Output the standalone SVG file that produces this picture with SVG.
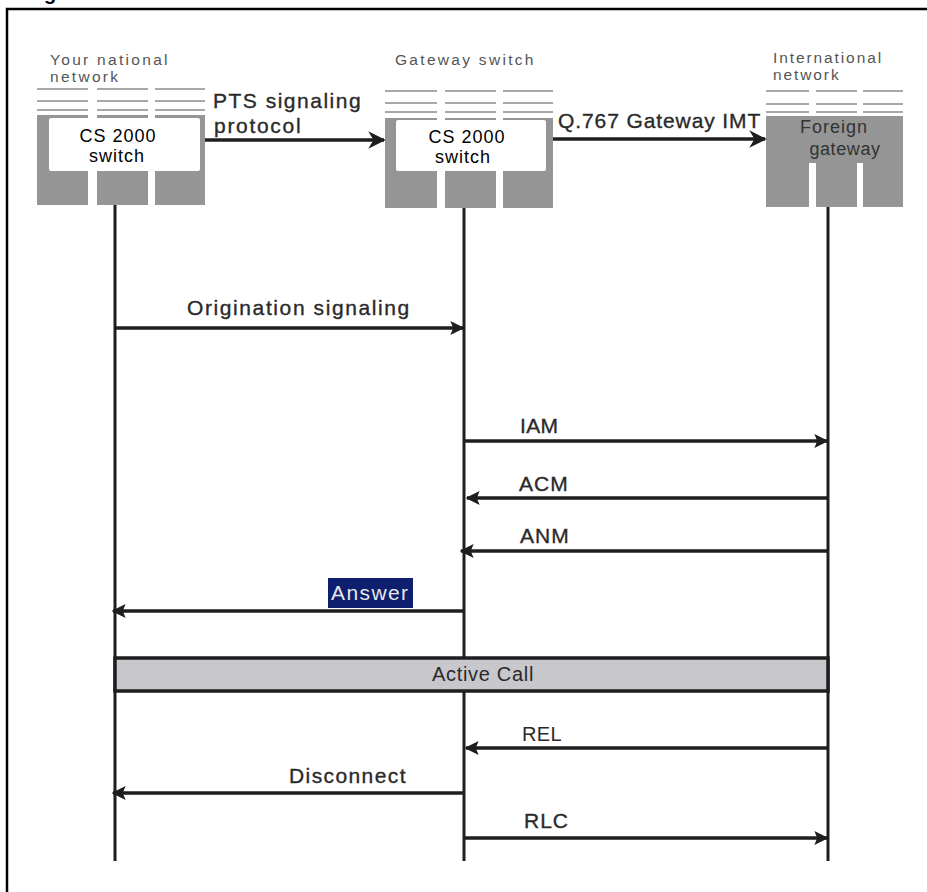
<svg xmlns="http://www.w3.org/2000/svg" width="927" height="892" viewBox="0 0 927 892">
<style>
.frame{fill:none;stroke:#000;stroke-width:2.5}
.col{fill:#959595}
.hl{stroke:#a8a8a8;stroke-width:2}
.box{fill:#fff}
.life{stroke:#1e1e1e;stroke-width:3}
.msg{stroke:#1e1e1e;stroke-width:3.5;fill:none}
.hdr{stroke:#1e1e1e;stroke-width:3.5;fill:none}
.cap{font-family:"Liberation Sans",Arial,sans-serif;font-size:15.5px;fill:#555;letter-spacing:2.3px}
.cs{font-family:"Liberation Sans",Arial,sans-serif;font-size:18px;fill:#000;text-anchor:middle;letter-spacing:1px}
.lbl{font-family:"Liberation Sans",Arial,sans-serif;font-size:21px;fill:#2a2a2a;stroke:#2a2a2a;stroke-width:0.35}
.sm{font-family:"Liberation Sans",Arial,sans-serif;font-size:20px;fill:#2a2a2a}
</style>
<defs>
<marker id="ah" viewBox="0 0 10 10" refX="9" refY="5" markerWidth="4" markerHeight="4" orient="auto-start-reverse" markerUnits="strokeWidth">
<path d="M0,0 L10,5 L0,10 L2,5 Z" fill="#1e1e1e"/>
</marker>
<marker id="ahb" viewBox="0 0 10 10" refX="9" refY="5" markerWidth="5" markerHeight="5" orient="auto" markerUnits="strokeWidth">
<path d="M0,0 L10,5 L0,10 L3,5 Z" fill="#1e1e1e"/>
</marker>
</defs>
<text x="44" y="0" style="font-family:'Liberation Sans',Arial,sans-serif;font-size:20px;font-weight:bold;fill:#000">g</text>
<path class="frame" d="M7,892 V9 H930"/>

<g id="node-national">
<text class="cap" x="50" y="65">Your national</text>
<text class="cap" x="50" y="82">network</text>
<line class="hl" x1="37" y1="89" x2="88" y2="89"/><line class="hl" x1="97" y1="89" x2="148" y2="89"/><line class="hl" x1="155" y1="89" x2="205" y2="89"/>
<line class="hl" x1="37" y1="101" x2="88" y2="101"/><line class="hl" x1="97" y1="101" x2="148" y2="101"/><line class="hl" x1="155" y1="101" x2="205" y2="101"/>
<line class="hl" x1="37" y1="110" x2="88" y2="110"/><line class="hl" x1="97" y1="110" x2="148" y2="110"/><line class="hl" x1="155" y1="110" x2="205" y2="110"/>
<rect class="col" x="37" y="115" width="51" height="90"/>
<rect class="col" x="97" y="115" width="51" height="90"/>
<rect class="col" x="155" y="115" width="50" height="90"/>
<rect class="box" x="49" y="118" width="151" height="53" rx="2"/>
<text class="cs" x="118" y="142">CS 2000</text>
<text class="cs" x="117" y="162">switch</text>
</g>

<g id="node-gateway">
<text class="cap" x="395" y="65">Gateway switch</text>
<line class="hl" x1="385" y1="91" x2="437" y2="91"/><line class="hl" x1="445" y1="91" x2="496" y2="91"/><line class="hl" x1="503" y1="91" x2="553" y2="91"/>
<line class="hl" x1="385" y1="103" x2="437" y2="103"/><line class="hl" x1="445" y1="103" x2="496" y2="103"/><line class="hl" x1="503" y1="103" x2="553" y2="103"/>
<line class="hl" x1="385" y1="112" x2="437" y2="112"/><line class="hl" x1="445" y1="112" x2="496" y2="112"/><line class="hl" x1="503" y1="112" x2="553" y2="112"/>
<rect class="col" x="385" y="118" width="52" height="90"/>
<rect class="col" x="445" y="118" width="51" height="90"/>
<rect class="col" x="503" y="118" width="50" height="90"/>
<rect class="box" x="396" y="120" width="150" height="51" rx="2"/>
<text class="cs" x="467" y="143">CS 2000</text>
<text class="cs" x="463" y="163">switch</text>
</g>

<g id="node-international">
<text class="cap" x="773" y="63" style="letter-spacing:1.9px">International</text>
<text class="cap" x="773" y="80" style="letter-spacing:1.9px">network</text>
<line class="hl" x1="766" y1="91" x2="809" y2="91"/><line class="hl" x1="816" y1="91" x2="857" y2="91"/><line class="hl" x1="863" y1="91" x2="903" y2="91"/>
<line class="hl" x1="766" y1="104" x2="809" y2="104"/><line class="hl" x1="816" y1="104" x2="857" y2="104"/><line class="hl" x1="863" y1="104" x2="903" y2="104"/>
<line class="hl" x1="766" y1="112" x2="809" y2="112"/><line class="hl" x1="816" y1="112" x2="857" y2="112"/><line class="hl" x1="863" y1="112" x2="903" y2="112"/>
<path class="col" d="M766,116 H903 V207 H863 V163 H857 V207 H816 V163 H809 V207 H766 Z"/>
<text x="834" y="133" text-anchor="middle" style="font-family:'Liberation Sans',Arial,sans-serif;font-size:18px;fill:#333;letter-spacing:1px">Foreign</text>
<text x="845" y="155" text-anchor="middle" style="font-family:'Liberation Sans',Arial,sans-serif;font-size:18px;fill:#333;letter-spacing:0.6px">gateway</text>
</g>

<g id="connectors">
<line class="life" x1="115" y1="205" x2="115" y2="861"/>
<line class="life" x1="464" y1="208" x2="464" y2="861"/>
<line class="life" x1="828" y1="207" x2="828" y2="861"/>

<line class="hdr" x1="205" y1="140" x2="384" y2="140" marker-end="url(#ahb)"/>
<text class="lbl" x="213" y="108" style="letter-spacing:1.5px">PTS signaling</text>
<text class="lbl" x="214" y="133" style="letter-spacing:1.7px">protocol</text>
<line class="hdr" x1="553" y1="139" x2="765" y2="139" marker-end="url(#ahb)"/>
<text class="lbl" x="558" y="128" style="letter-spacing:0.9px">Q.767 Gateway IMT</text>

<line class="msg" x1="115" y1="328" x2="463" y2="328" marker-end="url(#ah)"/>
<text class="lbl" x="187" y="315" style="letter-spacing:1.6px">Origination signaling</text>

<line class="msg" x1="464" y1="441" x2="827" y2="441" marker-end="url(#ah)"/>
<text class="lbl" x="520" y="433" style="letter-spacing:0.3px">IAM</text>

<line class="msg" x1="828" y1="498" x2="467" y2="498" marker-end="url(#ah)"/>
<text class="lbl" x="519" y="491" style="letter-spacing:1px">ACM</text>

<line class="msg" x1="828" y1="551" x2="461" y2="551" marker-end="url(#ah)"/>
<text class="lbl" x="520" y="543" style="letter-spacing:1px">ANM</text>

<line class="msg" x1="464" y1="611" x2="113" y2="611" marker-end="url(#ah)"/>
<rect x="328" y="578" width="85" height="30" fill="#0d1f6e"/>
<text x="331" y="600" style="font-family:'Liberation Sans',Arial,sans-serif;font-size:21px;fill:#e8e8e8;letter-spacing:1.4px">Answer</text>

<rect x="115" y="658" width="713" height="33" fill="#c8c8cc" stroke="#1e1e1e" stroke-width="3.5"/>
<text class="sm" x="483" y="681" text-anchor="middle" style="letter-spacing:0.7px">Active Call</text>

<line class="msg" x1="828" y1="748" x2="466" y2="748" marker-end="url(#ah)"/>
<text class="sm" x="522" y="741" style="letter-spacing:0.3px">REL</text>

<line class="msg" x1="464" y1="793" x2="113" y2="793" marker-end="url(#ah)"/>
<text class="lbl" x="289" y="783" style="letter-spacing:1.4px">Disconnect</text>

<line class="msg" x1="464" y1="838" x2="827" y2="838" marker-end="url(#ah)"/>
<text class="lbl" x="524" y="828" style="letter-spacing:1px">RLC</text>
</g>
</svg>
